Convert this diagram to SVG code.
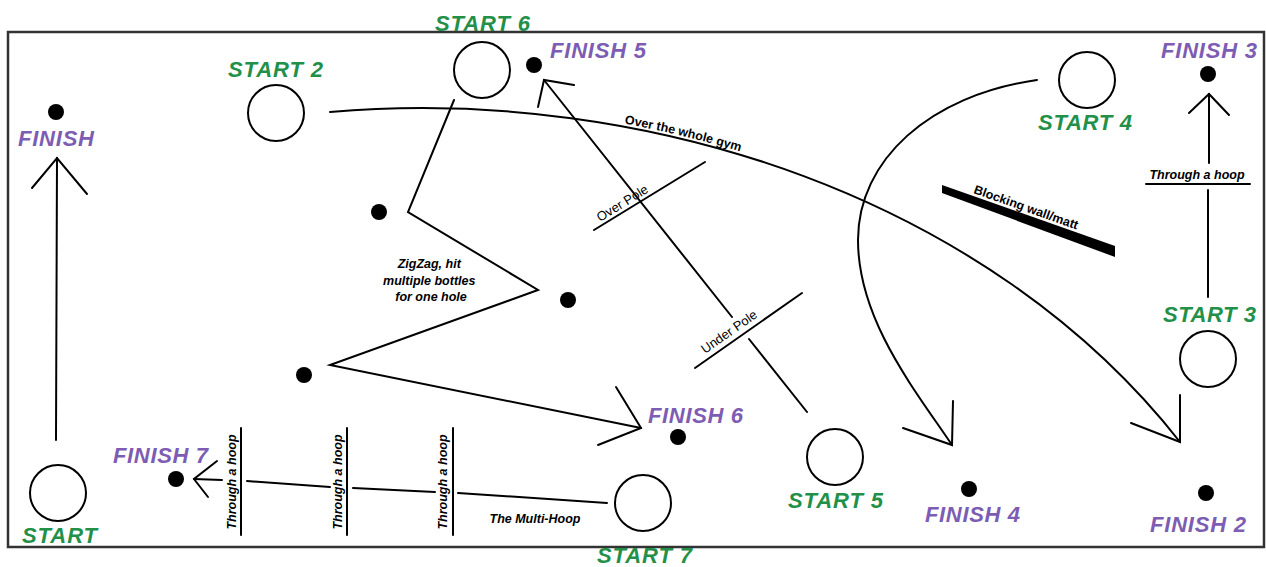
<svg xmlns="http://www.w3.org/2000/svg" width="1266" height="567" viewBox="0 0 1266 567">
  <style>
    .line { fill: none; stroke: #000; stroke-width: 2; stroke-linecap: round; stroke-linejoin: miter; }
    .hole { fill: #fff; stroke: #000; stroke-width: 2; }
    .dot { fill: #000; }
    .start { font-family: "Liberation Sans", Arial, sans-serif; font-weight: bold; font-style: italic; font-size: 22px; fill: #23904a; }
    .finish { font-family: "Liberation Sans", Arial, sans-serif; font-weight: bold; font-style: italic; font-size: 22px; fill: #7d5cb3; }
    .note { font-family: "Liberation Sans", Arial, sans-serif; font-weight: bold; font-style: italic; font-size: 12.5px; fill: #000; }
    .plain { font-family: "Liberation Sans", Arial, sans-serif; font-size: 13px; fill: #000; }
    .boldnote { font-family: "Liberation Sans", Arial, sans-serif; font-weight: bold; font-size: 12.5px; fill: #000; }
  </style>
  <defs>
    <path id="gymPath" d="M330,112 C650,85 990,200 1180,442"/>
  </defs>

  <rect width="1266" height="567" fill="#fff"/>
  <!-- gym floor outline -->
  <rect x="8" y="32" width="1256" height="515" fill="none" stroke="#333" stroke-width="2.5"/>

  <!-- connectors: routes between starts and finishes -->
  <g id="connectors">
    <!-- hole 1 -->
    <line class="line" x1="56" y1="440" x2="57" y2="158"/>
    <polyline class="line" points="32,188 57,158 87,194"/>
    <!-- hole 2: over the whole gym -->
    <use href="#gymPath" class="line"/>
    <polyline class="line" points="1131,423 1180,442 1180,395"/>
    <!-- hole 3 -->
    <line class="line" x1="1208" y1="297" x2="1208" y2="190"/>
    <line class="line" x1="1209" y1="163" x2="1209" y2="94"/>
    <polyline class="line" points="1189,113 1209,94 1229,115"/>
    <line class="line" x1="1146" y1="184" x2="1250" y2="184"/>
    <!-- hole 4 -->
    <path class="line" d="M1037,80 C930,95 858,160 858,240 C858,320 915,390 952,445"/>
    <polyline class="line" points="903,428 952,445 953,401"/>
    <!-- hole 5 -->
    <line class="line" x1="807" y1="412" x2="749" y2="339"/>
    <line class="line" x1="732" y1="317" x2="544" y2="80"/>
    <polyline class="line" points="574,85 544,80 538,107"/>
    <line class="line" x1="594" y1="230" x2="705" y2="162"/>
    <line class="line" x1="695" y1="368" x2="802" y2="293"/>
    <!-- hole 6: zigzag -->
    <polyline class="line" points="454,100 408,212 538,290 330,365 641,428"/>
    <polyline class="line" points="616,387 641,428 598,445"/>
    <!-- hole 7: multi-hoop -->
    <line class="line" x1="607" y1="503" x2="458" y2="493"/>
    <line class="line" x1="435" y1="492" x2="353" y2="488"/>
    <line class="line" x1="330" y1="487" x2="247" y2="481"/>
    <line class="line" x1="222" y1="480" x2="194" y2="479"/>
    <polyline class="line" points="217,461 194,479 208,497"/>
    <line class="line" x1="241" y1="428" x2="241" y2="535"/>
    <line class="line" x1="347" y1="428" x2="347" y2="535"/>
    <line class="line" x1="453" y1="428" x2="453" y2="535"/>
  </g>

  <!-- blocking wall -->
  <g id="wall">
    <polygon points="942,185 1115,246 1115,257 942,193" fill="#000"/>
    <text class="boldnote" transform="translate(973,193) rotate(19.4)">Blocking wall/matt</text>
  </g>

  <!-- obstacle notes -->
  <g id="notes">
    <text class="boldnote" dy="-3"><textPath href="#gymPath" startOffset="295">Over the whole gym</textPath></text>
    <text class="plain" transform="translate(600,222) rotate(-31.5)">Over Pole</text>
    <text class="plain" transform="translate(705,354) rotate(-35)">Under Pole</text>
    <text class="note" x="1197" y="179" text-anchor="middle">Through a hoop</text>
    <text class="note" transform="translate(236,482) rotate(-90)" text-anchor="middle">Through a hoop</text>
    <text class="note" transform="translate(342,482) rotate(-90)" text-anchor="middle">Through a hoop</text>
    <text class="note" transform="translate(447,482) rotate(-90)" text-anchor="middle">Through a hoop</text>
    <text class="note" x="535" y="523" text-anchor="middle">The Multi-Hoop</text>
    <text class="note" text-anchor="middle">
      <tspan x="431" y="268">ZigZag, hit</tspan>
      <tspan x="431" y="285">multiple bottles</tspan>
      <tspan x="431" y="301">for one hole</tspan>
    </text>
  </g>

  <!-- bottles for the zigzag -->
  <g id="bottles">
    <circle class="dot" cx="379" cy="212" r="8"/>
    <circle class="dot" cx="568" cy="300" r="8"/>
    <circle class="dot" cx="304" cy="375" r="8"/>
  </g>

  <!-- start holes -->
  <g id="start1"><circle class="hole" cx="58" cy="493" r="28"/><text class="start" x="22" y="543" textLength="75">START</text></g>
  <g id="start2"><circle class="hole" cx="276" cy="113" r="28"/><text class="start" x="228" y="77" textLength="95">START 2</text></g>
  <g id="start3"><circle class="hole" cx="1208" cy="359" r="28"/><text class="start" x="1163" y="322" textLength="93">START 3</text></g>
  <g id="start4"><circle class="hole" cx="1087" cy="80" r="28"/><text class="start" x="1038" y="130" textLength="94">START 4</text></g>
  <g id="start5"><circle class="hole" cx="835" cy="457" r="28"/><text class="start" x="788" y="508" textLength="95">START 5</text></g>
  <g id="start6"><circle class="hole" cx="482" cy="70" r="28"/><text class="start" x="435" y="31" textLength="95">START 6</text></g>
  <g id="start7"><circle class="hole" cx="643" cy="503" r="28"/><text class="start" x="597" y="563" textLength="95">START 7</text></g>

  <!-- finish points -->
  <g id="finish1"><circle class="dot" cx="56" cy="112" r="8"/><text class="finish" x="18" y="146" textLength="76">FINISH</text></g>
  <g id="finish2"><circle class="dot" cx="1206" cy="493" r="8"/><text class="finish" x="1150" y="532" textLength="96">FINISH 2</text></g>
  <g id="finish3"><circle class="dot" cx="1208" cy="74" r="8"/><text class="finish" x="1161" y="58" textLength="96">FINISH 3</text></g>
  <g id="finish4"><circle class="dot" cx="969" cy="489" r="8"/><text class="finish" x="925" y="522" textLength="95">FINISH 4</text></g>
  <g id="finish5"><circle class="dot" cx="534" cy="65" r="8"/><text class="finish" x="550" y="58" textLength="96">FINISH 5</text></g>
  <g id="finish6"><circle class="dot" cx="678" cy="437" r="8"/><text class="finish" x="648" y="423" textLength="95">FINISH 6</text></g>
  <g id="finish7"><circle class="dot" cx="176" cy="479" r="8"/><text class="finish" x="113" y="463" textLength="95">FINISH 7</text></g>
</svg>
